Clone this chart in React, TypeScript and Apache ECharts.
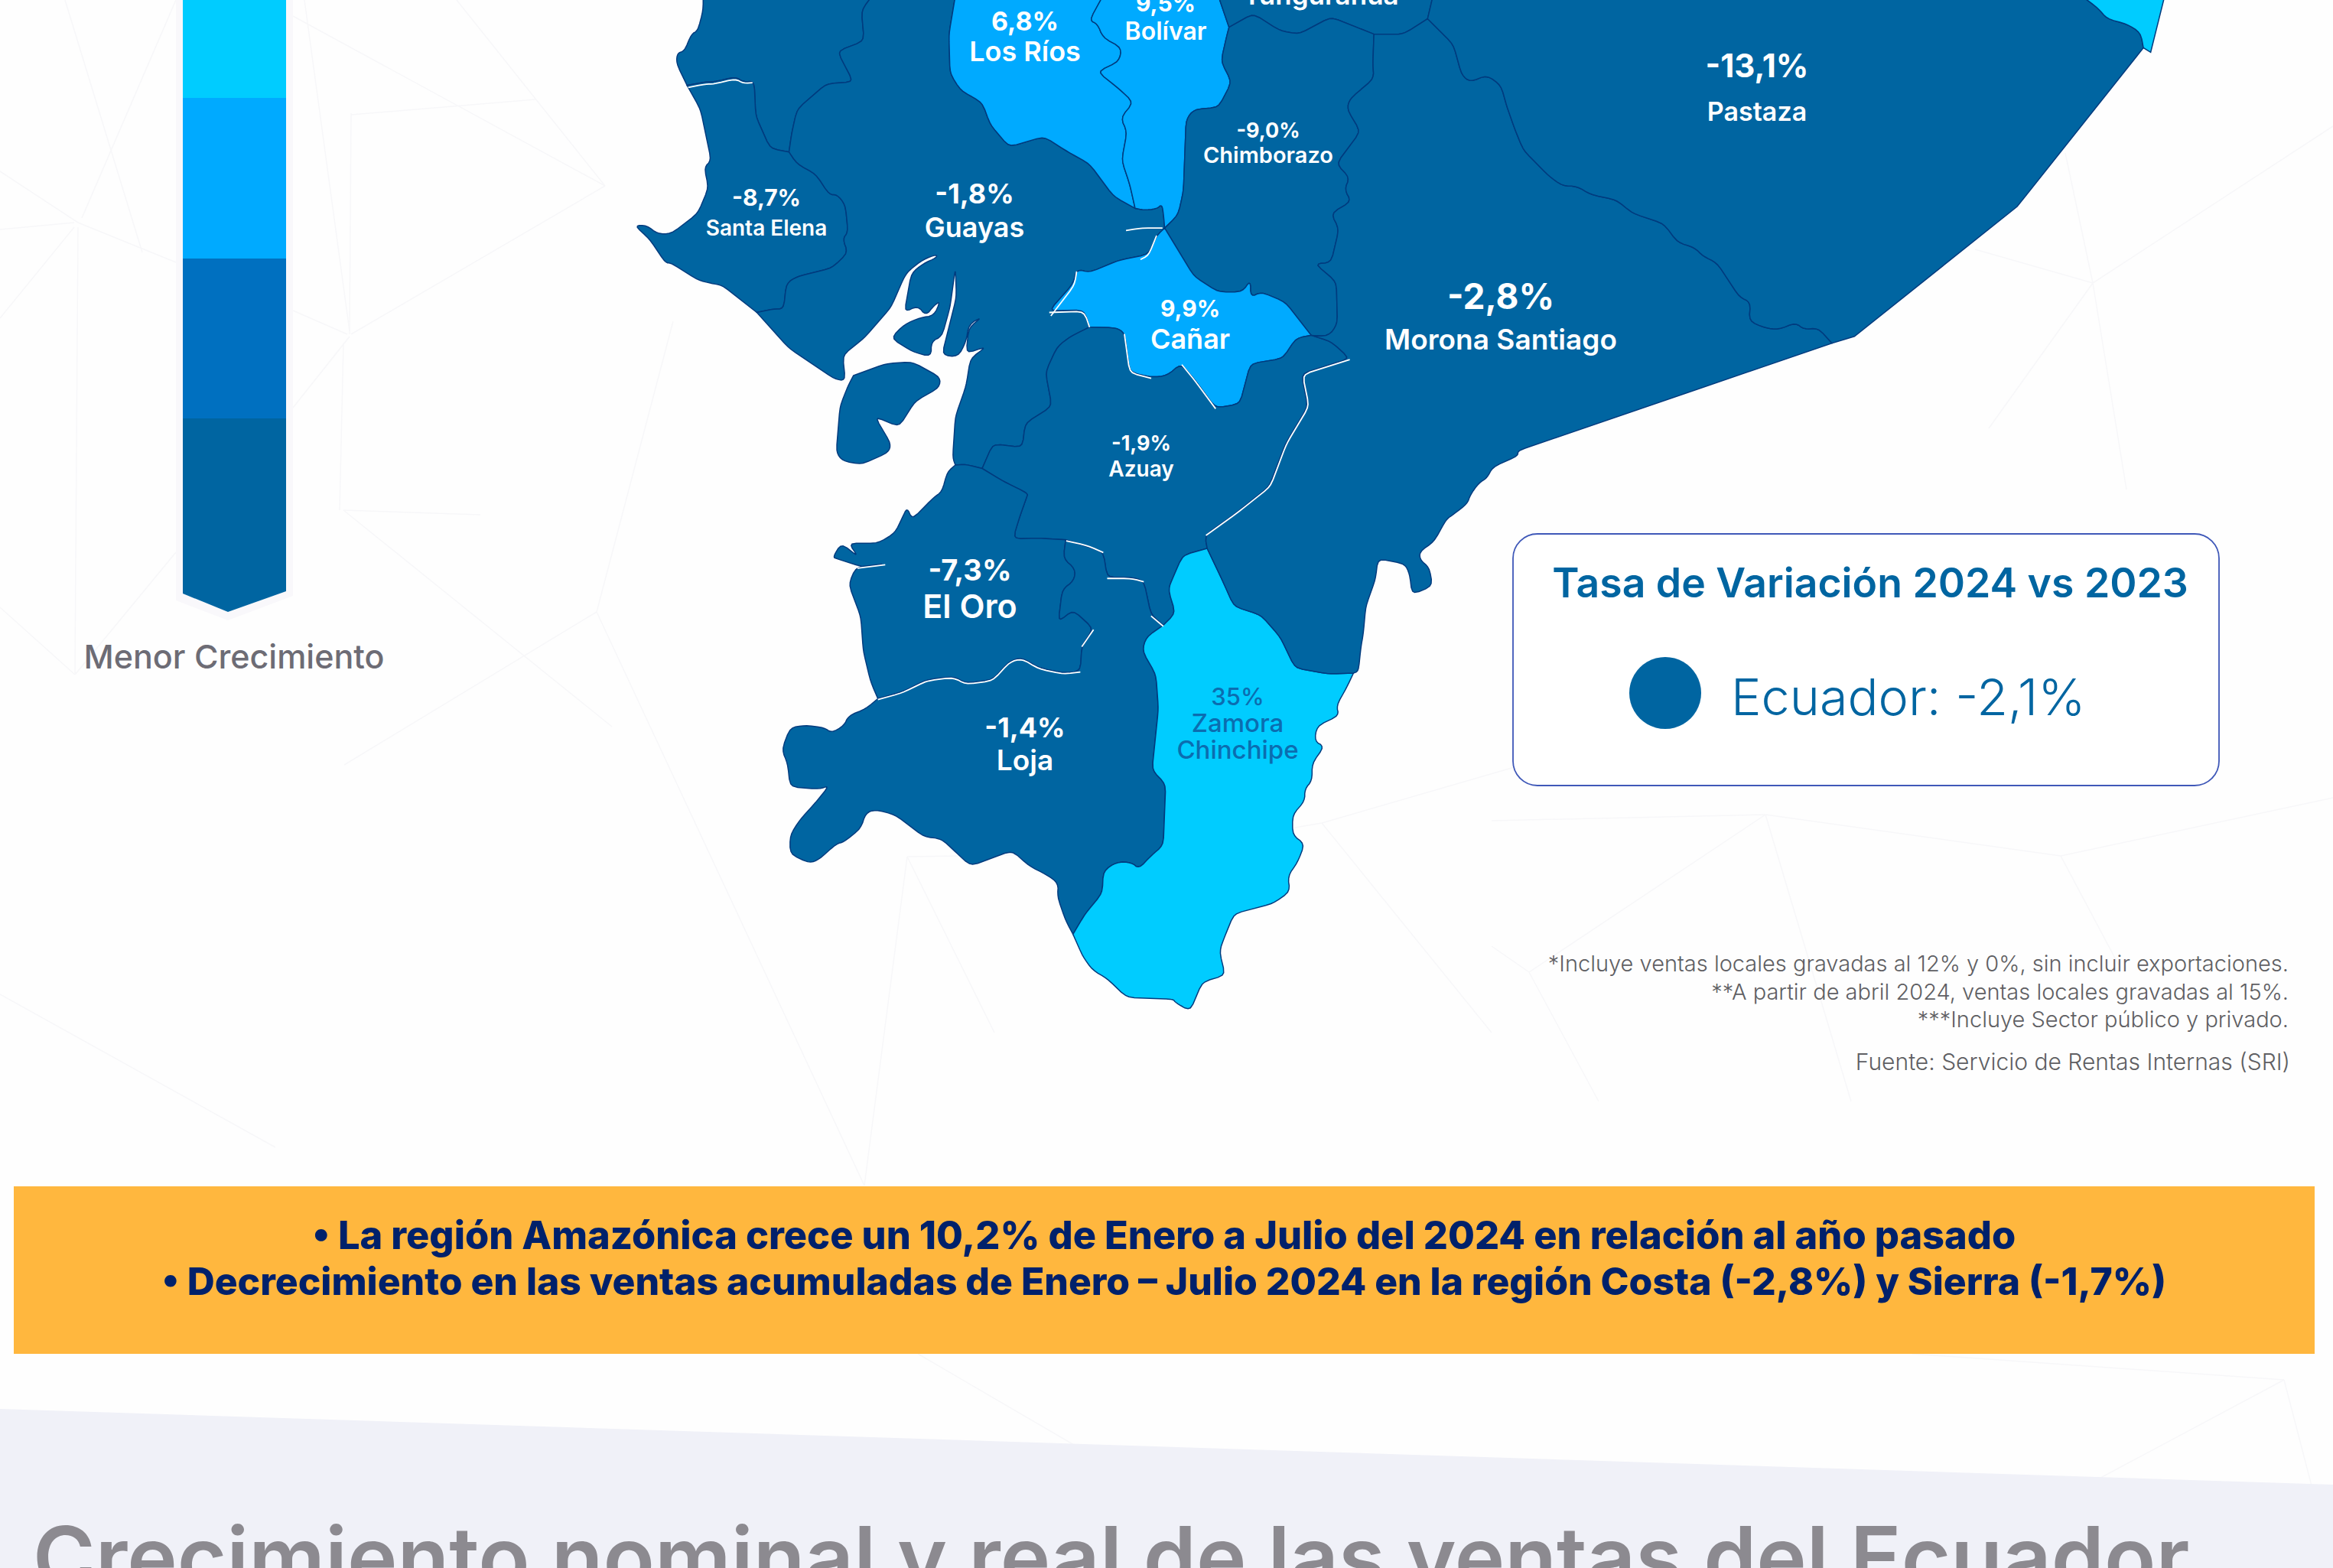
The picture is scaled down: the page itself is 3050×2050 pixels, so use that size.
import React, { useEffect, useRef } from "react";
import * as echarts from "echarts";

const W = 3050;
const H = 2050;
const FONT = "Inter";

// ---- data ----
const provinceNames = ["Los Ríos", "Bolívar", "Chimborazo", "Santa Elena", "Guayas", "Cañar", "Azuay", "Morona Santiago", "Pastaza", "El Oro", "Loja", "Zamora Chinchipe"];
const provinceGrowth = [6.8, 9.5, -9.0, -8.7, -1.8, 9.9, -1.9, -2.8, -13.1, -7.3, -1.4, 35];
const scaleColors = ["#00CCFF", "#00AAFF", "#0070C0", "#0065A1"];
const scaleBreaks = [20, 5, 0];
const nationalValue = "Ecuador: -2,1%";
const legendTitle = "Tasa de Variación 2024 vs 2023";
const scaleCaption = "Menor Crecimiento";
const footnotes = [
  "*Incluye ventas locales gravadas al 12% y 0%, sin incluir exportaciones.",
  "**A partir de abril 2024, ventas locales gravadas al 15%.",
  "***Incluye Sector público y privado.",
];
const sourceNote = "Fuente: Servicio de Rentas Internas (SRI)";
const bannerLines = [
  "• La región Amazónica crece un 10,2% de Enero a Julio del 2024 en relación al año pasado",
  "• Decrecimiento en las ventas acumuladas de Enero – Julio 2024 en la región Costa (-2,8%) y Sierra (-1,7%)",
];
const pageTitle = "Crecimiento nominal y real de las ventas del Ecuador";

// ---- outline helpers: borders are traced once and shared by both provinces ----
type Pt = [number, number];
const round = (pts: Pt[]): Pt[] => {
  let cur = pts;
  for (let it = 0; it < 2; it++) {
    const next: Pt[] = [cur[0]];
    for (let i = 1; i < cur.length - 1; i++) {
      const [px, py] = cur[i - 1];
      const [x, y] = cur[i];
      const [nx, ny] = cur[i + 1];
      const d1 = Math.hypot(x - px, y - py);
      const d2 = Math.hypot(nx - x, ny - y);
      const c1 = Math.min(5, d1 / 4) / (d1 || 1);
      const c2 = Math.min(5, d2 / 4) / (d2 || 1);
      next.push([x + (px - x) * c1, y + (py - y) * c1]);
      next.push([x + (nx - x) * c2, y + (ny - y) * c2]);
    }
    next.push(cur[cur.length - 1]);
    cur = next;
  }
  return cur;
};
const frame = (ox: number, oy: number, sx: number, sy: number) => (...n: number[]): Pt[] => {
  const out: Pt[] = [];
  for (let i = 0; i < n.length; i += 2) out.push([ox + n[i] * sx, oy + n[i + 1] * sy]);
  return out;
};
const A = frame(800, 0, 1100 / 1568, 700 / 1568);
const B = frame(950, 650, 1000 / 1568, 700 / 1568);
const C = frame(1900, 0, 1150 / 1568, 700 / 1568);
const rev = (p: Pt[]): Pt[] => [...p].reverse();

const coastManabi = round(A(170, -12, 170, 30, 160, 90, 148, 100, 135, 150, 122, 155, 120, 185, 140, 250));
const manabiElena = round(A(140, 250, 175, 240, 190, 240, 230, 225, 245, 240, 265, 238, 268, 340, 295, 435, 330, 445));
const manabiGuayas = round(A(330, 445, 335, 390, 345, 320, 400, 245, 450, 240, 420, 150, 470, 120, 465, 30, 485, -12));
const elenaCoast = round(A(140, 250, 165, 320, 185, 470, 172, 490, 180, 550, 160, 625, 110, 685, 85, 685, 65, 660, 42, 660, 70, 700, 100, 770, 110, 770, 160, 820, 185, 830, 205, 835, 270, 915));
const elenaGuayas = round(A(270, 915, 300, 905, 320, 905, 325, 830, 345, 810, 410, 785, 440, 740, 430, 700, 440, 680, 435, 600, 420, 570, 405, 570, 380, 510, 345, 480, 330, 445));
const guayasCoast = round(A(270, 915, 330, 1020, 415, 1110, 435, 1115, 430, 1040, 470, 990, 520, 900, 545, 810, 555, 790, 580, 760, 605, 745, 605, 755, 580, 772, 558, 800, 545, 915, 570, 895, 585, 925, 600, 895, 612, 882, 600, 925, 575, 930, 545, 950, 520, 990, 560, 1030, 595, 1045, 595, 1000, 615, 985, 630, 900, 640, 785, 642, 870, 615, 1040, 645, 1045, 660, 1000, 665, 950, 690, 928, 665, 960, 660, 1035, 698, 1015, 668, 1050, 660, 1130, 640, 1220, 635, 1340, 640, 1362));
const guayasElOro = round(A(640, 1362, 660, 1360, 690, 1372));
const guayasAzuay = round(A(690, 1372, 710, 1300, 765, 1310, 770, 1240, 820, 1190, 808, 1090, 830, 1015, 855, 985, 890, 958));
const guayasCanar = round(A(890, 958, 880, 908, 815, 910, 860, 830, 866, 788, 890, 798, 945, 762, 1000, 745, 1015, 690, 1030, 668));
const guayasBolivar = round(A(1030, 668, 1028, 630, 1025, 598, 1015, 612, 990, 615, 975, 610));
const guayasRios = round(A(975, 610, 935, 575, 890, 480, 850, 445, 805, 400, 740, 430, 705, 365, 690, 300, 650, 265, 630, 215, 628, 100, 640, -12));
const riosBolivar = round(A(975, 610, 965, 540, 950, 470, 960, 385, 948, 345, 972, 300, 945, 260, 905, 210, 945, 180, 950, 140, 915, 110, 905, 70, 890, 60, 915, -12));
const bolivarChimb = round(A(1030, 668, 1055, 630, 1065, 560, 1070, 350, 1085, 320, 1130, 315, 1155, 240, 1135, 180, 1145, 110, 1150, 80));
const bolivarTung = round(A(1150, 80, 1130, -12));
const tungChimb = round(A(1150, 80, 1195, 40, 1245, 90, 1280, 100, 1340, 50, 1420, 100));
const tungMorona = round(A(1420, 100, 1450, 100, 1475, 100, 1520, 55));
const tungPastaza = round(A(1520, 55, 1530, -12));
const chimbMorona = round(A(1420, 100, 1418, 190, 1420, 230, 1375, 290, 1370, 320, 1395, 385, 1350, 480, 1375, 520, 1365, 555, 1378, 590, 1340, 625, 1355, 670, 1340, 770, 1310, 772, 1350, 825, 1352, 950, 1335, 985, 1303, 982));
const canarChimb = round(A(1030, 668, 1085, 810, 1130, 855, 1175, 855, 1190, 820, 1190, 870, 1210, 855, 1255, 885, 1303, 982));
const canarAzuay = round(A(1303, 982, 1275, 990, 1250, 1050, 1190, 1065, 1170, 1183, 1125, 1195, 1085, 1110, 1060, 1065, 1035, 1100, 1005, 1105, 965, 1090, 955, 975, 940, 960, 890, 958));
const azuayMorona = round([...A(1303, 982, 1340, 1000, 1375, 1050, 1285, 1095, 1297, 1190, 1255, 1300, 1225, 1425, 1165, 1500, 1105, 1568), ...B(985, 150)]);
const azuayZamora = round(B(985, 150, 935, 170, 915, 235, 905, 270, 920, 340, 895, 375));
const azuayLoja = round(B(895, 375, 870, 345, 855, 245, 830, 235, 780, 235, 772, 160, 695, 125));
const azuayElOro = round([...B(695, 125, 640, 120, 587, 122, 600, 60, 615, 0), ...A(775, 1445, 730, 1410, 690, 1372)]);
const elOroLoja = round(B(695, 125, 690, 180, 715, 210, 712, 245, 688, 270, 680, 365, 710, 330, 752, 385, 728, 435, 725, 510, 690, 515, 640, 500, 605, 470, 580, 480, 545, 535, 490, 545, 465, 525, 410, 535, 360, 570, 310, 590));
const elOroCoast = round([...B(310, 590, 295, 540, 280, 450, 275, 350, 250, 255, 265, 205, 325, 195, 280, 205, 225, 180, 218, 175, 235, 135, 270, 175, 250, 135, 310, 135, 345, 105, 360, 60, 370, 30, 380, 65, 425, 0), ...A(615, 1440, 625, 1382, 640, 1362)]);
const lojaZamora = round(B(895, 375, 860, 410, 852, 450, 880, 520, 885, 620, 872, 800, 900, 840, 895, 1020, 870, 1050, 845, 1088, 830, 1070, 800, 1068, 772, 1095, 770, 1160, 735, 1220, 710, 1280));
const lojaCoast = round(B(710, 1280, 695, 1240, 678, 1170, 680, 1130, 655, 1105, 620, 1080, 585, 1035, 500, 1080, 470, 1040, 440, 1000, 405, 995, 345, 930, 305, 915, 285, 925, 275, 970, 240, 1010, 225, 1015, 190, 1060, 170, 1072, 130, 1045, 130, 990, 150, 945, 185, 890, 210, 845, 190, 855, 130, 848, 125, 780, 113, 740, 130, 675, 160, 668, 200, 675, 215, 690, 240, 670, 250, 640, 285, 620, 310, 590));
const moronaZamora = round(B(985, 150, 1015, 240, 1040, 320, 1095, 345, 1135, 410, 1165, 500, 1235, 518, 1285, 515));
const zamoraCoast = round(B(1285, 515, 1270, 560, 1250, 610, 1255, 640, 1210, 670, 1205, 715, 1225, 730, 1200, 780, 1200, 830, 1185, 855, 1185, 890, 1160, 930, 1160, 990, 1185, 1015, 1170, 1070, 1150, 1110, 1155, 1155, 1120, 1190, 1040, 1220, 1020, 1290, 1010, 1330, 1022, 1400, 975, 1420, 950, 1505, 920, 1480, 915, 1470, 820, 1465, 780, 1410, 750, 1385, 730, 1345, 710, 1280));
const pastazaMorona = round([...A(1520, 55), ...C(0, 130, 15, 220, 30, 240, 60, 220, 85, 250, 95, 310, 110, 380, 125, 440, 170, 515, 195, 545, 220, 545, 245, 570, 290, 585, 320, 625, 375, 655, 400, 710, 430, 725, 445, 750, 470, 770, 510, 870, 530, 885, 527, 940, 555, 960, 580, 965, 610, 945, 625, 965, 650, 960, 675, 1005)]);
const moronaCoast = round([...C(675, 1005, 115, 1320, 115, 1335, 70, 1368, 60, 1400, 45, 1415, 30, 1450, 25, 1475), ...B(1490, 50, 1475, 65, 1450, 130, 1420, 160, 1422, 185, 1440, 205, 1447, 260, 1405, 285, 1400, 225, 1390, 195, 1335, 180, 1330, 240, 1310, 320, 1305, 400, 1300, 440, 1295, 510, 1285, 515)]);
const pastazaEast = round(C(1120, -12, 1150, 25, 1165, 55, 1200, 70, 1225, 95, 1230, 140));
const pastazaCoast = C(1230, 140, 1005, 605, 715, 985, 675, 1005);
const eastTip = C(1243, 153, 1268, -12);

const puna = round(A(450, 1100, 510, 1065, 560, 1060, 612, 1105, 610, 1135, 565, 1175, 535, 1250, 490, 1220, 520, 1300, 515, 1325, 465, 1360, 430, 1350, 418, 1325, 425, 1190, 440, 1130, 450, 1100));

const outlines: Record<string, Pt[][]> = {
  "Manabí": [[...coastManabi, ...manabiElena, ...manabiGuayas]],
  "Santa Elena": [[...elenaCoast, ...elenaGuayas, ...rev(manabiElena)]],
  "Guayas": [[...rev(manabiGuayas), ...rev(elenaGuayas), ...guayasCoast, ...guayasElOro, ...guayasAzuay, ...guayasCanar, ...guayasBolivar, ...guayasRios], puna],
  "Los Ríos": [[...rev(guayasRios), ...riosBolivar]],
  "Bolívar": [[...rev(riosBolivar), ...rev(guayasBolivar), ...bolivarChimb, ...bolivarTung]],
  "Tungurahua": [[...rev(bolivarTung), ...tungChimb, ...tungMorona, ...tungPastaza]],
  "Chimborazo": [[...rev(bolivarChimb), ...canarChimb, ...rev(chimbMorona), ...rev(tungChimb)]],
  "Cañar": [[...canarChimb, ...canarAzuay, ...guayasCanar]],
  "Azuay": [[...rev(canarAzuay), ...azuayMorona, ...azuayZamora, ...azuayLoja, ...azuayElOro, ...guayasAzuay]],
  "El Oro": [[...guayasElOro, ...rev(azuayElOro), ...elOroLoja, ...elOroCoast]],
  "Loja": [[...rev(elOroLoja), ...rev(azuayLoja), ...lojaZamora, ...lojaCoast]],
  "Zamora Chinchipe": [[...rev(azuayZamora), ...moronaZamora, ...zamoraCoast, ...rev(lojaZamora)]],
  "Morona Santiago": [[...tungMorona, ...pastazaMorona, ...moronaCoast, ...rev(moronaZamora), ...rev(azuayMorona), ...rev(chimbMorona)]],
  "Pastaza": [[...rev(pastazaMorona), ...tungPastaza, ...pastazaEast, ...pastazaCoast]],
  "Orellana": [[...pastazaEast, ...eastTip]],
};

// label placement: centre x, centre y, value font, name font, line gap
const labelPlacement: Record<string, number[]> = {
  "Los Ríos": [1340, 47, 34, 36, 40],
  "Bolívar": [1524, 22, 30, 32, 36],
  "Tungurahua": [1727, -7, 34, 35, 34],
  "Chimborazo": [1658, 186, 27, 29, 32],
  "Santa Elena": [1002, 278, 30, 28, 40],
  "Guayas": [1274, 275, 36, 36, 44],
  "Cañar": [1556, 423, 30, 36, 40],
  "Azuay": [1492, 596, 27, 28, 33],
  "Morona Santiago": [1962, 415, 46, 37, 56],
  "Pastaza": [2297, 115, 42, 34, 60],
  "El Oro": [1268, 768, 38, 43, 47],
  "Loja": [1340, 972, 36, 37, 43],
  "Zamora Chinchipe": [1618, 945, 31, 33, 34.5],
};

const geoJson = {
  type: "FeatureCollection",
  features: Object.keys(outlines).map((name) => ({
    type: "Feature",
    properties: {
      name,
      cp: labelPlacement[name] ? [labelPlacement[name][0], -labelPlacement[name][1]] : undefined,
    },
    geometry: {
      type: "MultiPolygon",
      coordinates: outlines[name].map((ring) => [ring.map(([x, y]) => [x, -y])]),
    },
  })),
};

const tierColor = (v: number) => {
  const i = scaleBreaks.findIndex((b) => v >= b);
  return scaleColors[i < 0 ? 3 : i];
};
const fmt = (v: number) => `${v}`.replace(".", ",") + (Number.isInteger(v) && v !== 35 ? ",0%" : "%");

const makeLabel = (name: string, value: number | null, color: string) => {
  const [, , vf, nf, gap] = labelPlacement[name];
  const nameLines = name === "Zamora Chinchipe" ? ["Zamora", "Chinchipe"] : [name];
  const weight = color === "#FFFFFF" ? 600 : 500;
  const parts = [...(value === null ? [] : [`{v|${fmt(value)}}`]), ...nameLines.map((n) => `{n|${n}}`)];
  return {
    show: true,
    formatter: parts.join("\n"),
    rich: {
      v: { fontFamily: FONT, fontSize: vf, fontWeight: color === "#FFFFFF" ? 700 : 500, color, lineHeight: gap, align: "center" },
      n: { fontFamily: FONT, fontSize: nf, fontWeight: weight, color, lineHeight: gap, align: "center" },
    },
  };
};

const mapData = [
  ...provinceNames.map((name, i) => ({
    name,
    value: provinceGrowth[i],
    itemStyle: { areaColor: tierColor(provinceGrowth[i]) },
    label: makeLabel(name, provinceGrowth[i], name === "Zamora Chinchipe" ? "#0B6DB0" : "#FFFFFF"),
  })),
  { name: "Tungurahua", itemStyle: { areaColor: scaleColors[3] }, label: makeLabel("Tungurahua", null, "#FFFFFF") },
  { name: "Manabí", itemStyle: { areaColor: scaleColors[3] }, label: { show: false } },
  { name: "Orellana", itemStyle: { areaColor: scaleColors[0] }, label: { show: false } },
];

// thin white highlights that run along some of the borders
const highlights: Pt[][] = [
  round(A(142, 256, 175, 246, 190, 246, 230, 231, 245, 244, 262, 242)),
  round(A(958, 675, 985, 668, 1026, 668)),
  round(A(1015, 690, 1000, 748, 985, 760)),
  round(A(818, 925, 862, 835, 866, 795)),
  round(A(815, 915, 880, 912, 890, 958)),
  round(A(955, 978, 965, 1092, 1005, 1108)),
  round(A(1062, 1068, 1085, 1112, 1125, 1197)),
  round([...A(1375, 1053, 1287, 1097, 1299, 1190, 1257, 1300, 1227, 1425, 1167, 1500, 1107, 1568)]),
  round(B(696, 128, 740, 142, 772, 162)),
  round(B(780, 238, 830, 238, 855, 248)),
  round(B(870, 348, 895, 378)),
  round(B(725, 512, 690, 518, 640, 503, 605, 473, 580, 483, 545, 538, 490, 548, 465, 528, 410, 538, 360, 573, 310, 593)),
  round(B(752, 388, 728, 438)),
  round(B(268, 208, 325, 198)),
];

const mesh: number[][] = [
  [0, 224, 102, 291], [102, 291, 230, 343], [0, 300, 97, 291], [0, 416, 97, 297], [102, 297, 98, 880],
  [98, 882, 0, 794], [98, 882, 230, 722], [107, 285, 230, 0], [85, 0, 186, 330], [383, 21, 791, 243],
  [791, 243, 459, 437], [597, 0, 791, 243], [459, 148, 457, 437], [398, 0, 457, 433], [457, 440, 383, 533],
  [383, 406, 454, 437], [449, 449, 444, 667], [449, 667, 628, 673], [449, 667, 800, 950], [459, 150, 700, 130],
  [1950, 1073, 2308, 1065], [2308, 1065, 1999, 1271], [2308, 1065, 2694, 1119], [2694, 1119, 3050, 1043],
  [2694, 1119, 2770, 1262], [1999, 1271, 2090, 1440], [1999, 1271, 1950, 1237], [2308, 1065, 2420, 1440],
  [2582, 326, 2736, 370], [2700, 200, 2736, 370], [2736, 370, 3050, 165], [2736, 370, 2600, 560], [2736, 370, 2780, 640],
  [1728, 1076, 1990, 1000], [1728, 1076, 1950, 1350], [1186, 1120, 1300, 1350], [1186, 1120, 1500, 1115],
  [1186, 1120, 1130, 1550], [1728, 1076, 1500, 1115], [2986, 1804, 2675, 1970], [2500, 1770, 2986, 1804], [2986, 1804, 3050, 2050],
  [880, 420, 780, 800], [780, 800, 1130, 1550], [780, 800, 450, 1000], [1200, 1770, 1680, 2050], [0, 1300, 360, 1500],
];

const buildGraphics = () => {
  const els: any[] = [];
  mesh.forEach(([x1, y1, x2, y2]) =>
    els.push({ type: "line", z: 0, silent: true, shape: { x1, y1, x2, y2 }, style: { stroke: "#F7F7F9", lineWidth: 1.5 } })
  );
  highlights.forEach((points) =>
    els.push({ type: "polyline", z: 50, silent: true, shape: { points }, style: { stroke: "#FFFFFF", lineWidth: 1.8, fill: null } })
  );
  // colour scale ribbon
  els.push({ type: "polygon", z: 1, shape: { points: [[230, -5], [383, -5], [383, 779], [298, 811], [230, 785]] }, style: { fill: "#F9F8FB" } });
  const edges = [-5, 128, 338, 547];
  scaleColors.slice(0, 3).forEach((fill, i) =>
    els.push({ type: "rect", z: 2, shape: { x: 239, y: edges[i], width: 135, height: edges[i + 1] - edges[i] }, style: { fill } })
  );
  els.push({ type: "polygon", z: 2, shape: { points: [[239, 547], [374, 547], [374, 773], [298, 800], [239, 776]] }, style: { fill: scaleColors[3] } });
  els.push({ type: "text", z: 3, x: 306, y: 858, style: { text: scaleCaption, fontFamily: FONT, fontSize: 43, fontWeight: 500, fill: "#6D6C75", align: "center", verticalAlign: "middle" } });

  // national box
  els.push({ type: "rect", z: 3, shape: { x: 1978, y: 698, width: 923, height: 329, r: 32 }, style: { fill: "#FFFFFF", stroke: "#3F58B8", lineWidth: 1.8 } });
  els.push({ type: "text", z: 4, x: 2445, y: 761, style: { text: legendTitle, fontFamily: FONT, fontSize: 53.5, fontWeight: 600, fill: scaleColors[3], align: "center", verticalAlign: "middle" } });
  els.push({ type: "circle", z: 4, shape: { cx: 2177, cy: 906, r: 47 }, style: { fill: scaleColors[3] } });
  els.push({ type: "text", z: 4, x: 2263, y: 911, style: { text: nationalValue, fontFamily: FONT, fontSize: 66.5, fontWeight: 300, fill: scaleColors[3], align: "left", verticalAlign: "middle" } });

  // notes
  const noteYs = [1259, 1296, 1332];
  footnotes.forEach((text, i) =>
    els.push({ type: "text", z: 4, x: 2992, y: noteYs[i], style: { text, fontFamily: FONT, fontSize: 29, fontWeight: 300, fill: "#5F5F63", align: "right", verticalAlign: "middle" } })
  );
  els.push({ type: "text", z: 4, x: 2994, y: 1388, style: { text: sourceNote, fontFamily: FONT, fontSize: 30, fontWeight: 300, fill: "#5F5F63", align: "right", verticalAlign: "middle" } });

  // banner
  els.push({ type: "rect", z: 4, shape: { x: 18, y: 1551, width: 3008, height: 219 }, style: { fill: "#FFB73E" } });
  const bannerYs = [1614, 1675];
  const bannerSizes = [50.5, 49.8];
  bannerLines.forEach((text, i) =>
    els.push({ type: "text", z: 5, x: 1522, y: bannerYs[i], style: { text, fontFamily: FONT, fontSize: bannerSizes[i], fontWeight: 800, fill: "#00216B", align: "center", verticalAlign: "middle" } })
  );

  // lower section
  els.push({ type: "polygon", z: 1, shape: { points: [[0, 1842], [3050, 1941], [3050, 2050], [0, 2050]] }, style: { fill: "#F0F1F8" } });
  els.push({ type: "text", z: 5, x: 43, y: 2036, style: { text: pageTitle, fontFamily: FONT, fontSize: 110.8, fontWeight: 600, fill: "#8C8A90", align: "left", verticalAlign: "middle" } });
  return els;
};

export default function App() {
  const ref = useRef<HTMLDivElement>(null);
  useEffect(() => {
    document.body.style.margin = "0";
    echarts.registerMap("ecuador", geoJson as any);
    const chart = echarts.init(ref.current!, null, { renderer: "svg" });
    chart.setOption({
      animation: false,
      backgroundColor: "#FEFEFE",
      tooltip: { show: false },
      graphic: { elements: buildGraphics() },
      series: [
        {
          type: "map",
          map: "ecuador",
          roam: false,
          silent: true,
          z: 10,
          aspectScale: 1,
          boundingCoords: [[0, 0], [W, -H]],
          left: 0,
          top: 0,
          width: W,
          height: H,
          itemStyle: { borderColor: "#003B7E", borderWidth: 1.5, areaColor: scaleColors[3] },
          emphasis: { disabled: true },
          select: { disabled: true },
          data: mapData,
        },
      ],
    });
    return () => chart.dispose();
  }, []);
  return <div ref={ref} style={{ position: "absolute", left: 0, top: 0, width: W, height: H }} />;
}
